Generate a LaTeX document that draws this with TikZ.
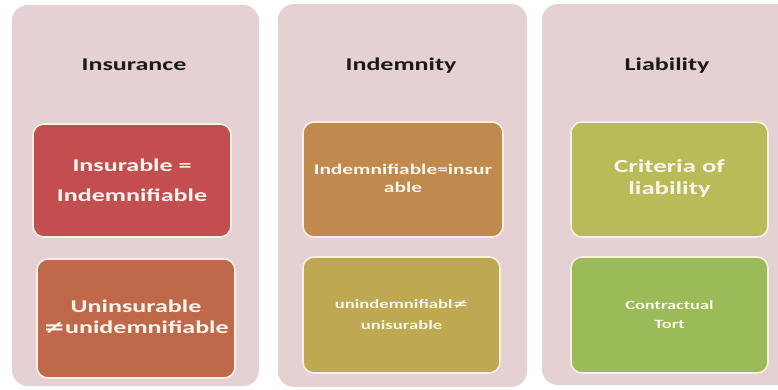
\documentclass[tikz,border=0pt]{standalone}
\usepackage{fontspec}
\usepackage{graphicx}
\setmainfont{Carlito}
\newfontfamily\symfont{DejaVu Sans}
\definecolor{panelc}{HTML}{E5D0D3}
\definecolor{edgec}{HTML}{F8F1DF}
\definecolor{txtc}{HTML}{FBF6EC}
\definecolor{titlec}{HTML}{1A1A1A}
\definecolor{cA}{HTML}{C24E50}
\definecolor{cB}{HTML}{C0694A}
\definecolor{cC}{HTML}{C0894E}
\definecolor{cD}{HTML}{BEA852}
\definecolor{cE}{HTML}{B9BA58}
\definecolor{cF}{HTML}{9BBB59}
\newcommand{\wtxt}[3]{\scalebox{1.45}[1]{\fontsize{#1}{#2}\selectfont\bfseries\begin{tabular}{@{}c@{}}#3\end{tabular}}}
\newcommand{\neqsym}{{\symfont\bfseries ≠}}
\tikzset{
  panel/.style={rectangle, rounded corners=16bp, fill=panelc, draw=none, inner sep=0pt},
  itembox/.style={rectangle, rounded corners=11bp, draw=edgec, line width=1.6bp, inner sep=0pt, text=txtc},
  titletxt/.style={inner sep=0pt, text=titlec, anchor=base}
}
\begin{document}
\begin{tikzpicture}[x=1bp,y=-1bp]
\useasboundingbox (0,0) rectangle (778,389);
\clip (0,0) rectangle (778,389);
\fill[white] (0,0) rectangle (778,389);
% panels
\node[panel, minimum width=247bp, minimum height=381bp] (p1) at (135.5,195.5) {};
\node[panel, minimum width=249bp, minimum height=383bp] (p2) at (402.5,195.5) {};
\node[panel, minimum width=252bp, minimum height=381bp] (p3) at (668,194.5) {};
% titles
\node[titletxt] (t1) at (134,70) {\wtxt{18}{22}{Insurance}};
\node[titletxt] (t2) at (401,70) {\wtxt{18}{22}{Indemnity}};
\node[titletxt] (t3) at (667,70) {\wtxt{18}{22}{Liability}};
% boxes
\node[itembox, fill=cA, minimum width=198bp, minimum height=113bp] (b1) at (132,180.5)
  {\wtxt{18}{30}{Insurable =\\Indemnifiable}};
\node[itembox, fill=cB, minimum width=198bp, minimum height=119bp] (b2) at (136,318.5)
  {\wtxt{18}{21.6}{Uninsurable\\\neqsym unidemnifiable}};
\node[itembox, fill=cC, minimum width=200bp, minimum height=115bp] (b3) at (403,179.5)
  {\wtxt{14.8}{18}{Indemnifiable=insur\\able}};
\node[itembox, fill=cD, minimum width=197bp, minimum height=116bp] (b4) at (401.5,315)
  {\wtxt{12.9}{21}{unindemnifiabl\neqsym\\unisurable}};
\node[itembox, fill=cE, minimum width=197bp, minimum height=115bp] (b5) at (669.5,179.5)
  {\wtxt{18.5}{22}{Criteria of\\liability}};
\node[itembox, fill=cF, minimum width=197bp, minimum height=116bp] (b6) at (669.5,315)
  {\wtxt{12.7}{20}{Contractual\\Tort}};
\end{tikzpicture}
\end{document}
